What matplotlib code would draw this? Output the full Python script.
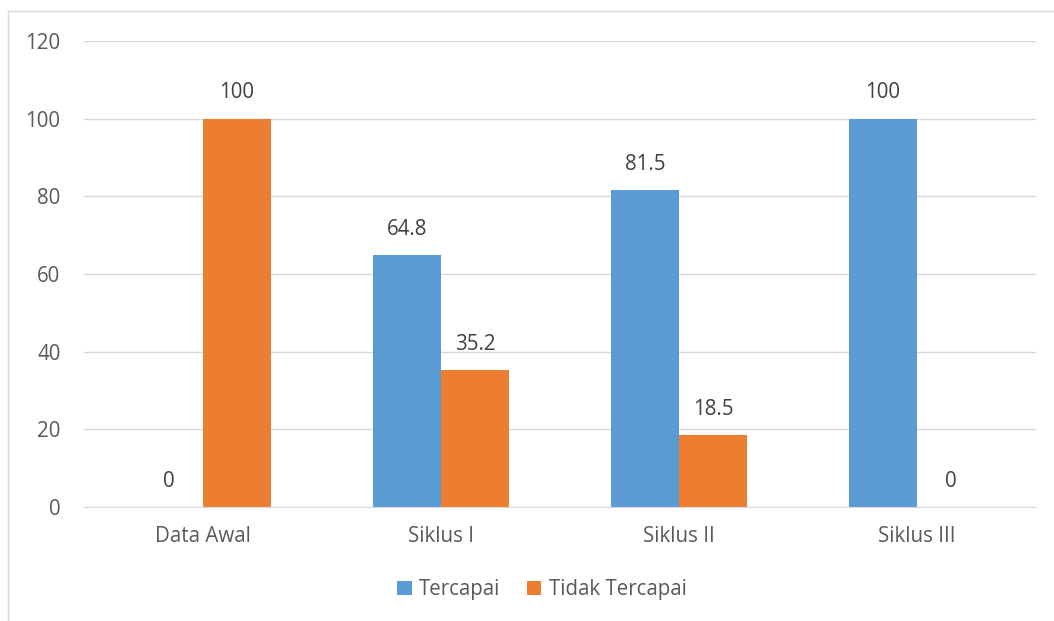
import matplotlib.pyplot as plt
import numpy as np
from matplotlib.lines import Line2D

# data
categories = ['Data Awal', 'Siklus I', 'Siklus II', 'Siklus III']
tercapai = [0, 64.8, 81.5, 100]
tidak_tercapai = [100, 35.2, 18.5, 0]
labels_tercapai = ['0', '64.8', '81.5', '100']
labels_tidak = ['100', '35.2', '18.5', '0']

plt.rcParams['font.family'] = ['Open Sans', 'DejaVu Sans']
txt = '#595959'
fs = 14.8

fig = plt.figure(figsize=(10.54, 6.21), dpi=100)
ax = fig.add_axes([0.0797, 0.1836, 0.9033, 0.7504])

x = np.arange(len(categories))
w = 0.286
b1 = ax.bar(x - w / 2, tercapai, w, color='#5b9bd5', label='Tercapai', zorder=3)
b2 = ax.bar(x + w / 2, tidak_tercapai, w, color='#ed7d31', label='Tidak Tercapai', zorder=3)

ax.bar_label(b1, labels=labels_tercapai, padding=11, fontsize=fs, color='#404040')
ax.bar_label(b2, labels=labels_tidak, padding=11, fontsize=fs, color='#404040')

ax.set_xlim(-0.5, 3.5)
ax.set_ylim(0, 120)
ax.set_yticks(range(0, 121, 20))
ax.set_xticks(x)
ax.set_xticklabels(categories)
ax.tick_params(axis='both', length=0, labelsize=fs, colors=txt)
ax.tick_params(axis='x', pad=14)
ax.tick_params(axis='y', pad=17)
ax.grid(axis='y', color='#d9d9d9', linewidth=1, zorder=0)
for s in ['top', 'right', 'left']:
    ax.spines[s].set_visible(False)
ax.spines['bottom'].set_color('#d9d9d9')
ax.spines['bottom'].set_zorder(4)

ax.legend(loc='center', bbox_to_anchor=(0.481, -0.178), ncol=2, frameon=False,
          fontsize=fs, handlelength=0.7, handleheight=0.7, handletextpad=0.35,
          columnspacing=1.3, labelcolor=txt)

# chart area border (cropped at right/bottom)
fig.add_artist(Line2D([8 / 1054, 8 / 1054], [0, 1 - 11 / 621], color='#d9d9d9', lw=1))
fig.add_artist(Line2D([8 / 1054, 1], [1 - 11 / 621, 1 - 11 / 621], color='#d9d9d9', lw=1))

plt.savefig('out.png', dpi=100)
